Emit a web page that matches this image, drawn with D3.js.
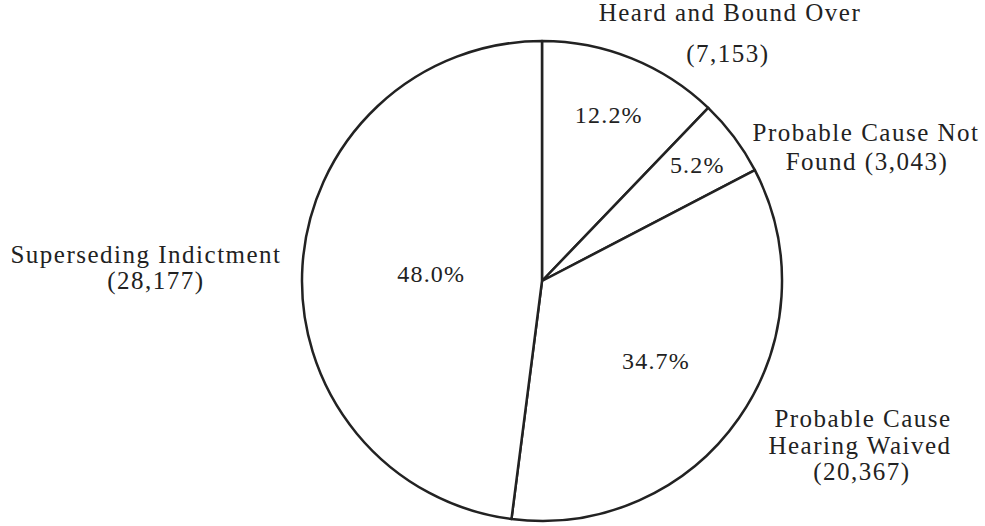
<!DOCTYPE html>
<html>
<head>
<meta charset="utf-8">
<script src="https://cdn.jsdelivr.net/npm/d3@7"></script>
<style>
  body { margin: 0; background: #fff; }
  svg text { font-family: "Liberation Serif", "DejaVu Serif", serif; fill: #222; }
</style>
</head>
<body>
<svg width="985" height="526"></svg>
<script>
// data, clockwise from 12 o'clock
const categories = ["Heard and Bound Over", "Probable Cause Not Found", "Probable Cause Hearing Waived", "Superseding Indictment"];
const counts = [7153, 3043, 20367, 28177];

// outside label lines per slice
const labelLines = [
  ["Heard and Bound Over", "(7,153)"],
  ["Probable Cause Not", "Found (3,043)"],
  ["Probable Cause", "Hearing Waived", "(20,367)"],
  ["Superseding Indictment", "(28,177)"]
];

const width = 985, height = 526;
const cx = 542, cy = 281, radius = 240;

// where the percent sits inside each slice
const pctRadius = [179, 194, 139, 111];
// outside labels: centre x and baseline for each line
const outside = [
  [[730, 21], [728, 62]],
  [[866, 141], [867, 170]],
  [[863, 427], [860, 454], [862, 480]],
  [[146, 263], [156, 289]]
];

const svg = d3.select("svg");
const g = svg.append("g").attr("transform", `translate(${cx},${cy})`);

const total = d3.sum(counts);
const pct = d3.format(".1%");

const pie = d3.pie().sort(null).value(d => d);
const arcs = pie(counts);
const arc = d3.arc().innerRadius(0).outerRadius(radius);

g.selectAll("path.slice")
  .data(arcs)
  .enter().append("path")
    .attr("class", "slice")
    .attr("d", arc)
    .attr("fill", "#fff")
    .attr("stroke", "#222")
    .attr("stroke-width", 2.5)
    .attr("stroke-linejoin", "round");

g.selectAll("text.pct")
  .data(arcs)
  .enter().append("text")
    .attr("class", "pct")
    .attr("transform", (d, i) => {
      const c = d3.arc().innerRadius(pctRadius[i]).outerRadius(pctRadius[i]).centroid(d);
      return `translate(${c[0]},${c[1] + 8})`;
    })
    .attr("text-anchor", "middle")
    .attr("font-size", 24)
    .attr("letter-spacing", 1.2)
    .text(d => pct(d.value / total));

const lab = svg.selectAll("text.lab")
  .data(labelLines)
  .enter().append("text")
    .attr("class", "lab")
    .attr("text-anchor", "middle")
    .attr("font-size", 25)
    .attr("letter-spacing", 1.5);

lab.each(function(lines, i) {
  d3.select(this).selectAll("tspan")
    .data(lines)
    .enter().append("tspan")
      .attr("x", (d, j) => outside[i][j][0])
      .attr("y", (d, j) => outside[i][j][1])
      .text(d => d);
});
</script>
</body>
</html>
